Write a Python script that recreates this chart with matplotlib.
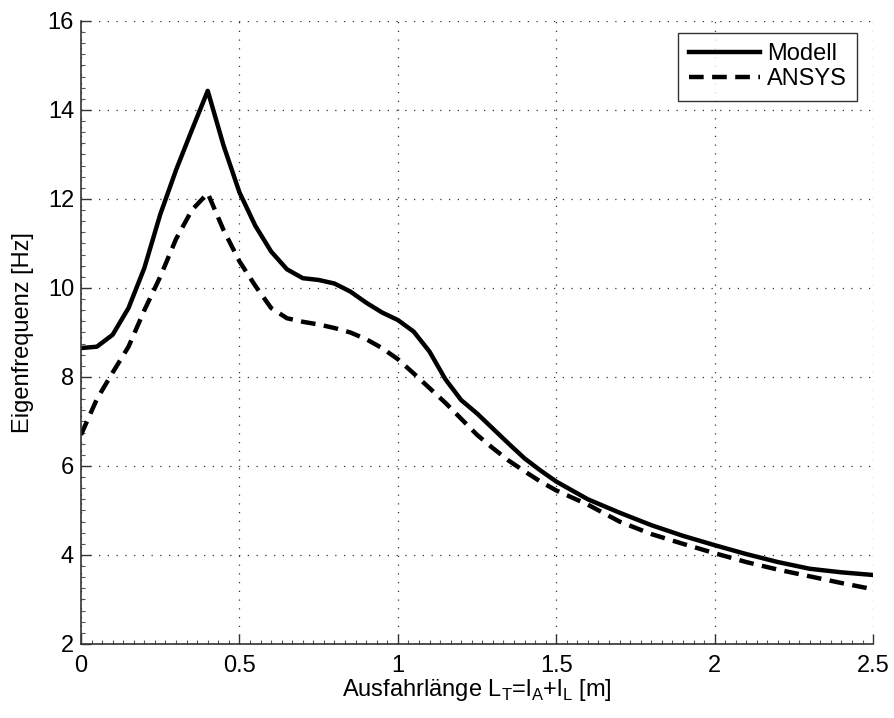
import matplotlib
matplotlib.use("Agg")
import matplotlib.pyplot as plt
from matplotlib.ticker import MultipleLocator, FuncFormatter

# Data
x_modell = [0.0, 0.05, 0.1, 0.15, 0.2, 0.25, 0.3, 0.35, 0.4, 0.45, 0.5, 0.55, 0.6, 0.65,
            0.7, 0.75, 0.8, 0.85, 0.9, 0.95, 1.0, 1.05, 1.1, 1.15, 1.2, 1.25, 1.3, 1.35,
            1.4, 1.45, 1.5, 1.6, 1.7, 1.8, 1.9, 2.0, 2.1, 2.2, 2.3, 2.4, 2.5]
y_modell = [8.65, 8.68, 8.95, 9.55, 10.45, 11.65, 12.65, 13.55, 14.43, 13.2, 12.15, 11.4,
            10.82, 10.42, 10.22, 10.18, 10.1, 9.92, 9.67, 9.45, 9.28, 9.02, 8.57, 7.95,
            7.48, 7.18, 6.84, 6.5, 6.17, 5.9, 5.65, 5.25, 4.95, 4.67, 4.43, 4.22, 4.02,
            3.84, 3.69, 3.61, 3.55]

x_ansys = [0.0, 0.05, 0.1, 0.15, 0.2, 0.25, 0.3, 0.35, 0.4, 0.45, 0.5, 0.55, 0.6, 0.65,
           0.7, 0.75, 0.8, 0.85, 0.9, 0.95, 1.0, 1.05, 1.1, 1.15, 1.2, 1.25, 1.3, 1.35,
           1.4, 1.45, 1.5, 1.6, 1.7, 1.8, 1.9, 2.0, 2.1, 2.2, 2.3, 2.4, 2.5]
y_ansys = [6.7, 7.5, 8.1, 8.68, 9.5, 10.25, 11.1, 11.75, 12.13, 11.3, 10.6, 10.05, 9.55,
           9.32, 9.24, 9.18, 9.1, 9.0, 8.85, 8.65, 8.4, 8.08, 7.75, 7.42, 7.06, 6.7, 6.4,
           6.12, 5.88, 5.65, 5.45, 5.13, 4.75, 4.47, 4.25, 4.04, 3.84, 3.67, 3.52, 3.37, 3.23]

plt.rcParams['font.family'] = ['Liberation Sans', 'DejaVu Sans']
plt.rcParams['mathtext.fontset'] = 'custom'
plt.rcParams['mathtext.rm'] = 'Liberation Sans'

fig = plt.figure(figsize=(8.94, 7.18), dpi=100)
ax = fig.add_axes([0.0906, 0.1031, 0.886, 0.8677])

ax.plot(x_modell, y_modell, color='black', lw=3.2, label="Modell")
ax.plot(x_ansys, y_ansys, color='black', lw=3.2, dashes=(3.3, 1.9), label="ANSYS")

ax.set_xlim(0, 2.5)
ax.set_ylim(2, 16)
ax.xaxis.set_major_locator(MultipleLocator(0.5))
ax.yaxis.set_major_locator(MultipleLocator(2))
ax.xaxis.set_minor_locator(MultipleLocator(0.5 / 15))
ax.yaxis.set_minor_locator(MultipleLocator(0.25))
ax.xaxis.set_major_formatter(FuncFormatter(lambda v, p: f"{v:g}"))

ax.grid(True, which='major', color='#333333', linestyle=(0, (1, 6)), linewidth=0.9)
for s in ['top', 'right']:
    ax.spines[s].set_visible(False)
for s in ['left', 'bottom']:
    ax.spines[s].set_color('#333333')
    ax.spines[s].set_linewidth(1.2)

ax.tick_params(which='major', direction='in', length=7, width=1, labelsize=17,
               colors='#333333', labelcolor='black')
ax.tick_params(axis='x', which='major', pad=8)
ax.tick_params(axis='y', which='major', pad=5)
ax.tick_params(which='minor', direction='in', length=3, width=0.8, colors='#555555')

ax.set_xlabel("Ausfahrlänge L$_\\mathrm{T}$=l$_\\mathrm{A}$+l$_\\mathrm{L}$ [m]", fontsize=17, labelpad=0)
ax.set_ylabel("Eigenfrequenz [Hz]", fontsize=17, labelpad=10)

leg = ax.legend(loc='upper right', fontsize=17, frameon=True, fancybox=False,
                edgecolor='black', handlelength=3.0, borderpad=0.45, labelspacing=0.12,
                handletextpad=0.3, borderaxespad=0, bbox_to_anchor=(0.98, 0.981))
leg.get_frame().set_linewidth(1.0)

fig.savefig("out.png", dpi=100)
